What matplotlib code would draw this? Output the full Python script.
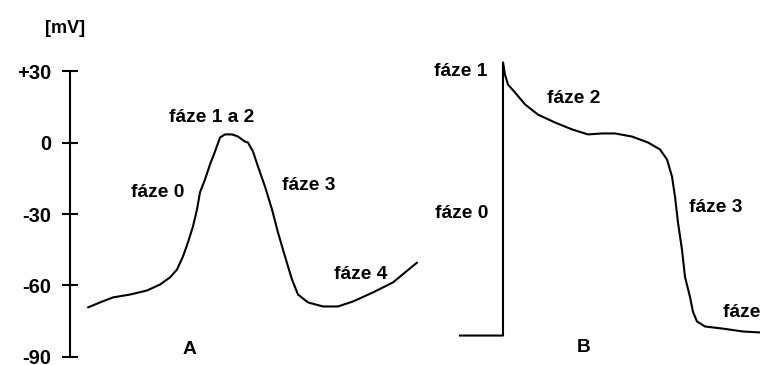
import numpy as np
import matplotlib.pyplot as plt

plt.rcParams['font.family'] = ['Liberation Sans', 'DejaVu Sans']

# -- panel A: action potential with membrane voltage scale [mV]
tA = [88, 100, 113, 130, 147, 160, 170, 177, 183, 188, 193, 197, 200, 205,
      210, 215, 220, 225, 232, 238, 245, 248, 253, 258, 265, 272, 278, 285,
      292, 298, 308, 323, 338, 353, 373, 393, 417]
vA = [-69.2, -67.1, -65.0, -63.8, -62.1, -59.6, -56.6, -53.3, -47.8, -41.9,
      -35.2, -28.1, -20.9, -15.5, -9.2, -3.8, 2.1, 3.4, 3.4, 2.5, 0.4, 0.0,
      -3.8, -10.1, -18.5, -28.1, -37.8, -47.8, -57.5, -63.8, -67.1, -68.8,
      -68.8, -66.7, -62.9, -58.7, -50.4]

# -- panel B: same voltage scale, no axis drawn
tB = [460, 503, 503, 505, 508, 515, 525, 538, 555, 572, 588, 602, 615, 632,
      648, 660, 667, 672, 675, 678, 682, 685, 690, 693, 697, 705, 723, 743,
      760]
vB = [-81.0, -81.0, 33.6, 28.5, 24.3, 21.0, 16.0, 11.7, 8.4, 5.5, 3.4, 3.8,
      3.8, 2.5, 0.0, -2.9, -7.1, -14.3, -22.7, -33.6, -45.0, -56.4, -64.8,
      -71.1, -75.1, -77.2, -78.1, -79.3, -79.7]

yticks = [30, 0, -30, -60, -90]
ytick_labels = ['+30', '0', '-30', '-60', '-90']

labelsA = [('fáze 1 a 2', 212, 10.3), ('fáze 0', 158, -21.0),
           ('fáze 3', 309, -18.0), ('fáze 4', 361, -55.5)]
labelsB = [('fáze 1', 461, 30.0), ('fáze 2', 574, 18.5),
           ('fáze 0', 462, -29.8), ('fáze 3', 716, -27.3)]

fig = plt.figure(figsize=(7.6, 3.65), dpi=100)
ax = fig.add_axes([0, 0, 1, 1])
ax.set_xlim(0, 760)
ax.set_ylim(-93.36, 59.8)

ax.plot(tA, vA, color='black', lw=1.5, solid_capstyle='round')
ax.plot(tB, vB, color='black', lw=1.5, solid_joinstyle='round')

# voltage axis of panel A
for s in ['top', 'right', 'bottom']:
    ax.spines[s].set_visible(False)
ax.spines['left'].set_position(('data', 70))
ax.spines['left'].set_bounds(-90, 30)
ax.spines['left'].set_linewidth(1.5)
ax.set_xticks([])
ax.set_yticks(yticks)
ax.set_yticklabels(ytick_labels)
ax.tick_params(axis='y', direction='inout', length=11.5, width=1.5, pad=8,
               labelsize=14.5)
for t in ax.get_yticklabels():
    t.set_fontweight('bold')

txt = dict(fontsize=13.8, fontweight='bold', ha='center', va='center')
ax.text(65, 47.8, '[mV]', fontsize=13, fontweight='bold', ha='center',
        va='center')
for s, x, y in labelsA + labelsB:
    ax.text(x, y, s, **txt)
ax.text(723, -71.4, 'fáze 4', fontsize=13.8, fontweight='bold', ha='left',
        va='center')
ax.text(189, -87.0, 'A', **txt)
ax.text(584, -86.0, 'B', **txt)

fig.savefig('out.png', dpi=100)
